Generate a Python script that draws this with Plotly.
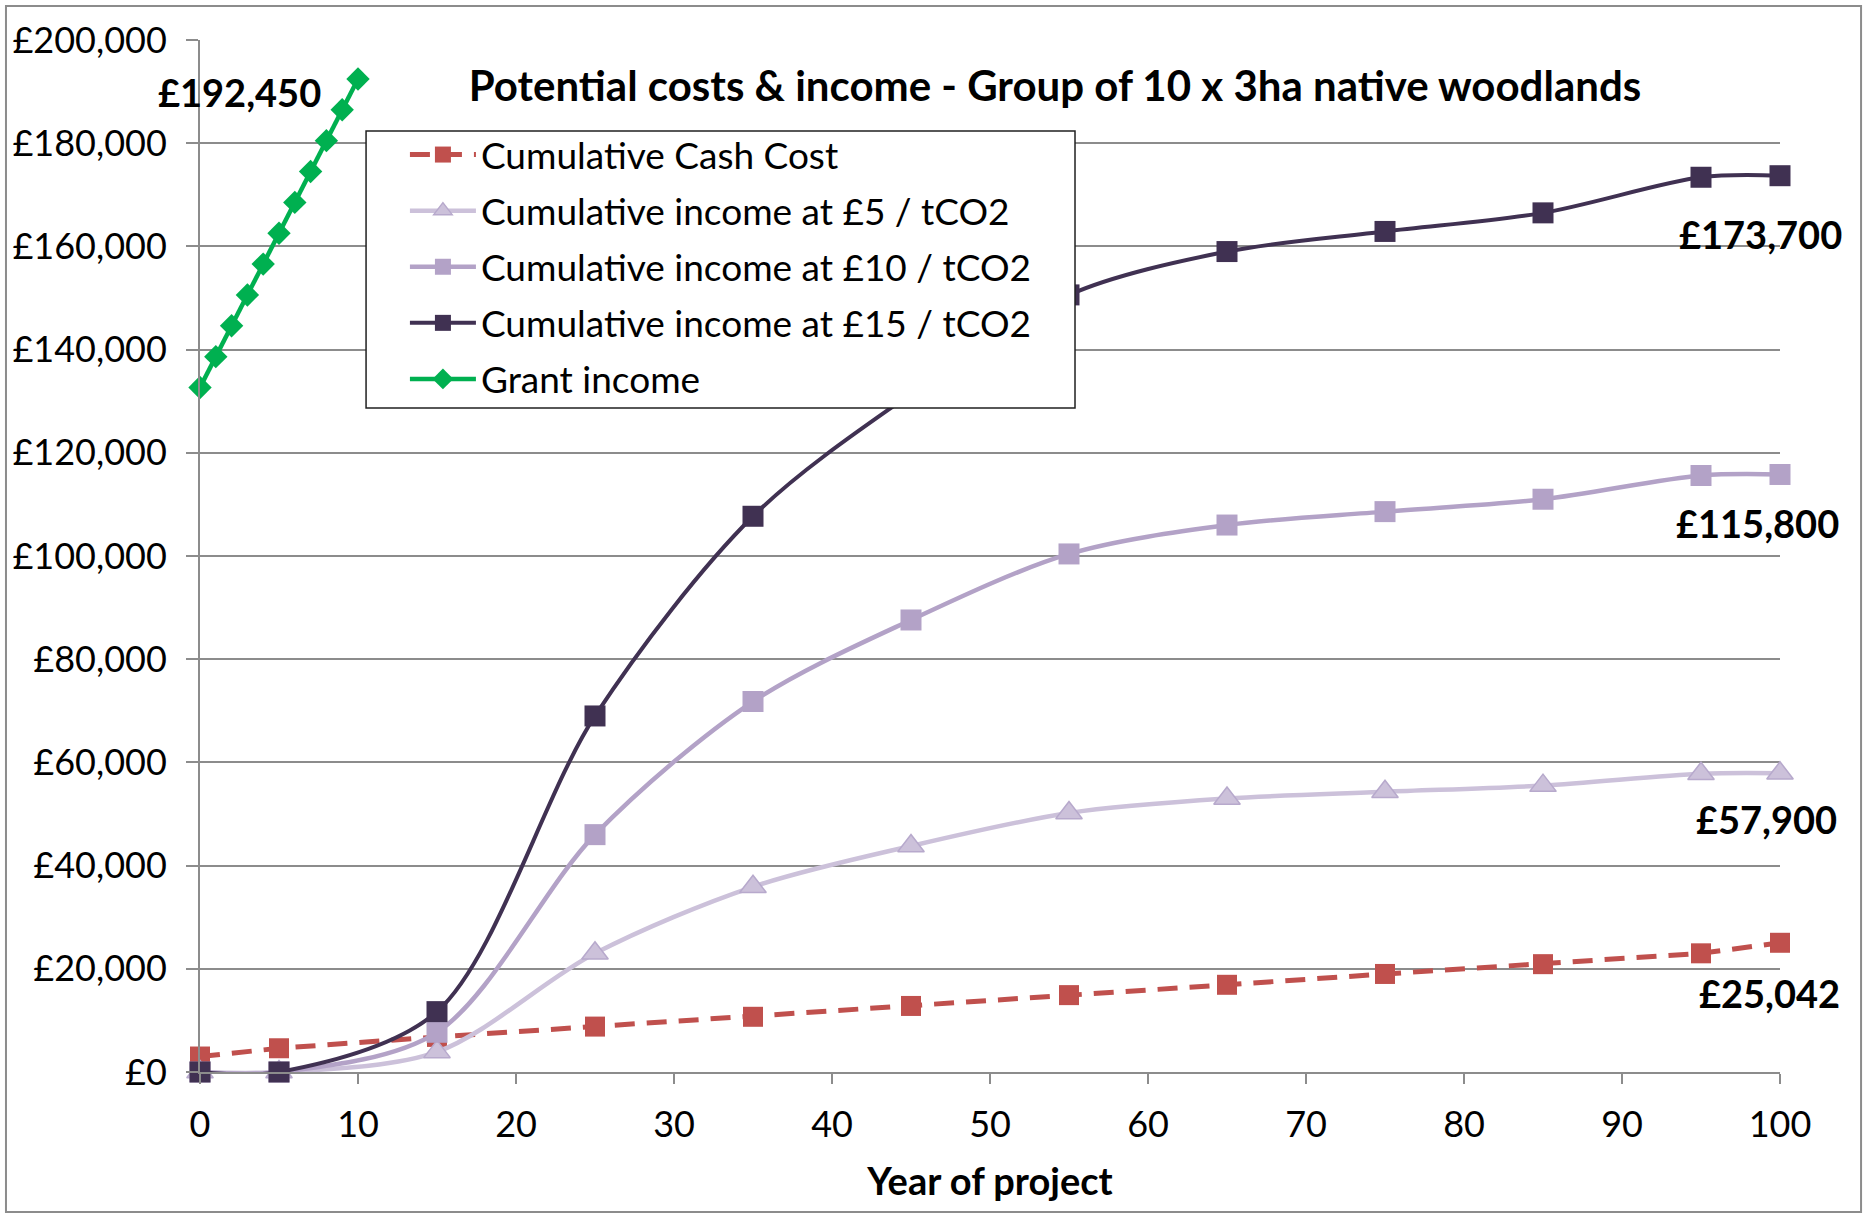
import plotly.graph_objects as go

# Project years at which cumulative values are recorded
years = [0, 5, 15, 25, 35, 45, 55, 65, 75, 85, 95, 100]

cash_cost = [3000, 4600, 6800, 8800, 10700, 12800, 14900, 16900, 19000, 20900, 23000, 25042]
income_5 = [0, 0, 3900, 23000, 35900, 43800, 50200, 53000, 54300, 55500, 57800, 57900]
income_10 = [0, 0, 7700, 46000, 71800, 87600, 100400, 106000, 108600, 111000, 115600, 115800]
income_15 = [0, 0, 11700, 69000, 107700, 131400, 150600, 159000, 162900, 166500, 173400, 173700]

grant_years = [0, 1, 2, 3, 4, 5, 6, 7, 8, 9, 10]
grant_income = [132650, 138630, 144610, 150590, 156570, 162550, 168530, 174510, 180490, 186470, 192450]

y_ticks = [0, 20000, 40000, 60000, 80000, 100000, 120000, 140000, 160000, 180000, 200000]
y_tick_text = ["£0", "£20,000", "£40,000", "£60,000", "£80,000", "£100,000",
               "£120,000", "£140,000", "£160,000", "£180,000", "£200,000"]

RED = "#C0504D"
LAV_LIGHT = "#CCC1DA"
LAV_MID = "#B3A2C7"
PURPLE_DARK = "#403152"
GREEN = "#00B050"
GRID = "#8C8C8C"
FONT = "Lato"

fig = go.Figure()

fig.add_trace(go.Scatter(
    x=years, y=cash_cost, name="Cumulative Cash Cost", legendgroup="a",
    mode="lines+markers", cliponaxis=False,
    line=dict(color=RED, width=5, dash="20px,12px"),
    marker=dict(symbol="square", size=20, color=RED),
))
fig.add_trace(go.Scatter(
    x=years, y=income_5, name="Cumulative income at £5 / tCO2", legendgroup="b",
    mode="lines+markers", cliponaxis=False,
    line=dict(color=LAV_LIGHT, width=4.5, shape="spline", smoothing=0.9),
    marker=dict(symbol="triangle-up", size=23, color=LAV_LIGHT,
                line=dict(color="#B7A9CC", width=1.5)),
))
fig.add_trace(go.Scatter(
    x=years, y=income_10, name="Cumulative income at £10 / tCO2", legendgroup="c",
    mode="lines+markers", cliponaxis=False,
    line=dict(color=LAV_MID, width=4.5, shape="spline", smoothing=0.9),
    marker=dict(symbol="square", size=21, color=LAV_MID),
))
fig.add_trace(go.Scatter(
    x=years, y=income_15, name="Cumulative income at £15 / tCO2", legendgroup="d",
    mode="lines+markers", cliponaxis=False,
    line=dict(color=PURPLE_DARK, width=4, shape="spline", smoothing=0.9),
    marker=dict(symbol="square", size=21, color=PURPLE_DARK),
))
fig.add_trace(go.Scatter(
    x=grant_years, y=grant_income, name="Grant income", legendgroup="e",
    mode="lines+markers", cliponaxis=False,
    line=dict(color=GREEN, width=4.5),
    marker=dict(symbol="diamond", size=18, color=GREEN),
))

# End-value labels
label_font = dict(family=FONT, size=38, color="black", weight="bold")
end_labels = [
    (grant_years[-1], grant_income[-1], -119, -13),
    (years[-1], income_15[-1], -20, -58),
    (years[-1], income_10[-1], -23, -49),
    (years[-1], income_5[-1], -14, -46),
    (years[-1], cash_cost[-1], -11, -50),
]
for x, y, dx, dy in end_labels:
    fig.add_annotation(x=x, y=y, text=f"£{y:,.0f}", showarrow=False,
                       xshift=dx, yshift=dy, font=label_font,
                       xanchor="center", yanchor="middle")

# Outer chart border
fig.add_shape(type="rect", xref="paper", yref="paper",
              x0=-0.1228, x1=1.0513, y0=-0.1357, y1=1.0329,
              line=dict(color="#8C8C8C", width=2), layer="below")

# Legend frame (white panel covering the curves behind the key)
fig.add_shape(type="rect", xref="paper", yref="paper",
              x0=0.1051, x1=0.5538, y0=0.6434, y1=0.9118,
              fillcolor="white", line=dict(color="#202020", width=1.5),
              layer="above")

fig.update_layout(
    width=1864, height=1216, autosize=False,
    margin=dict(l=200, r=84, t=40, b=144),
    paper_bgcolor="white", plot_bgcolor="white",
    font=dict(family=FONT, size=36, color="black"),
    title=dict(text="<b>Potential costs & income - Group of 10 x 3ha native woodlands</b>",
               xref="container", x=0.566, xanchor="center", y=0.929, yanchor="middle",
               font=dict(family=FONT, size=42, color="black")),
    showlegend=True,
    legend=dict(
        x=0.1297, y=0.9186, xanchor="left", yanchor="top",
        bgcolor="rgba(0,0,0,0)", borderwidth=0,
        font=dict(family=FONT, size=37, color="black"),
        traceorder="grouped", tracegroupgap=5, itemwidth=66,
    ),
    xaxis=dict(
        range=[0, 100], tickmode="array", tickvals=list(range(0, 101, 10)),
        showgrid=False, showline=True, linecolor=GRID, linewidth=2,
        ticks="outside", ticklen=10, tickcolor=GRID, tickwidth=1.5,
        ticklabelstandoff=10, zeroline=False,
        title=dict(text="<b>Year of project</b>", standoff=24,
                   font=dict(family=FONT, size=38, color="black")),
    ),
    yaxis=dict(
        range=[0, 200000], tickmode="array", tickvals=y_ticks, ticktext=y_tick_text,
        showgrid=True, gridcolor=GRID, gridwidth=1.5,
        showline=True, linecolor=GRID, linewidth=2,
        ticks="outside", ticklen=12, tickcolor=GRID, tickwidth=1.5,
        ticklabelstandoff=12, zeroline=False,
    ),
)

fig.write_html("out.html")
